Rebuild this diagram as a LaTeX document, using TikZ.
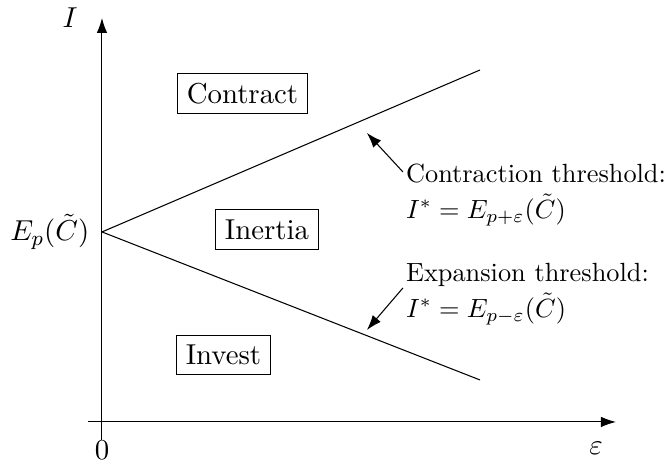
\documentclass[11pt,tikz,border=0pt]{standalone}
\usepackage{amsmath, amssymb}
\usepackage{tikz}
\usetikzlibrary{arrows.meta, positioning, calc}

\begin{document}
\begin{tikzpicture}[
  regime/.style={draw, rectangle},
  note/.style={align=left, font=\small},
  axis/.style={-{Latex[length=2mm, width=1.4mm]}},
]
  \useasboundingbox (-1.362,-0.561) rectangle (7.560,5.636);

  % axes
  \coordinate (o) at (0,0);
  \coordinate (ybot) at (0,-0.240);
  \coordinate (ytop) at (0,5.396);
  \coordinate (xleft) at (-0.187,0);
  \coordinate (xright) at (6.865,0);
  \draw[axis] (ybot) -- (ytop);
  \draw[axis] (xleft) -- (xright);
  \node (ilab) at (-0.427,5.396) {$I$};
  \node (zero) at (0,-0.374) {$0$};
  \node (eps) at (6.598,-0.347) {$\varepsilon$};

  % thresholds
  \coordinate (ep) at (0,2.538);
  \coordinate (upend) at (5.049,4.701);
  \coordinate (loend) at (5.049,0.561);
  \node[left=1pt of ep] (eplab) {$E_p(\tilde{C})$};
  \draw (ep) -- (upend);
  \draw (ep) -- (loend);

  % regions
  \node[regime] (contract) at (1.877,4.387) {Contract};
  \node[regime] (inertia) at (2.204,2.571) {Inertia};
  \node[regime] (invest) at (1.623,0.895) {Invest};

  % annotations
  \node[note, anchor=west] (ctr) at (3.927,3.032) {Contraction threshold:\\[1.5pt]$I^* = E_{p+\varepsilon}(\tilde{C})$};
  \node[note, anchor=west] (exp) at (3.927,1.710) {Expansion threshold:\\[1.5pt]$I^* = E_{p-\varepsilon}(\tilde{C})$};
  \coordinate (ctrtail) at (4.020,3.339);
  \coordinate (ctrtip) at (3.539,3.860);
  \coordinate (exptail) at (4.020,1.790);
  \coordinate (exptip) at (3.539,1.229);
  \draw[-{Latex[length=2mm, width=1.4mm]}] (ctrtail) -- (ctrtip);
  \draw[-{Latex[length=2mm, width=1.4mm]}] (exptail) -- (exptip);
\end{tikzpicture}
\end{document}
